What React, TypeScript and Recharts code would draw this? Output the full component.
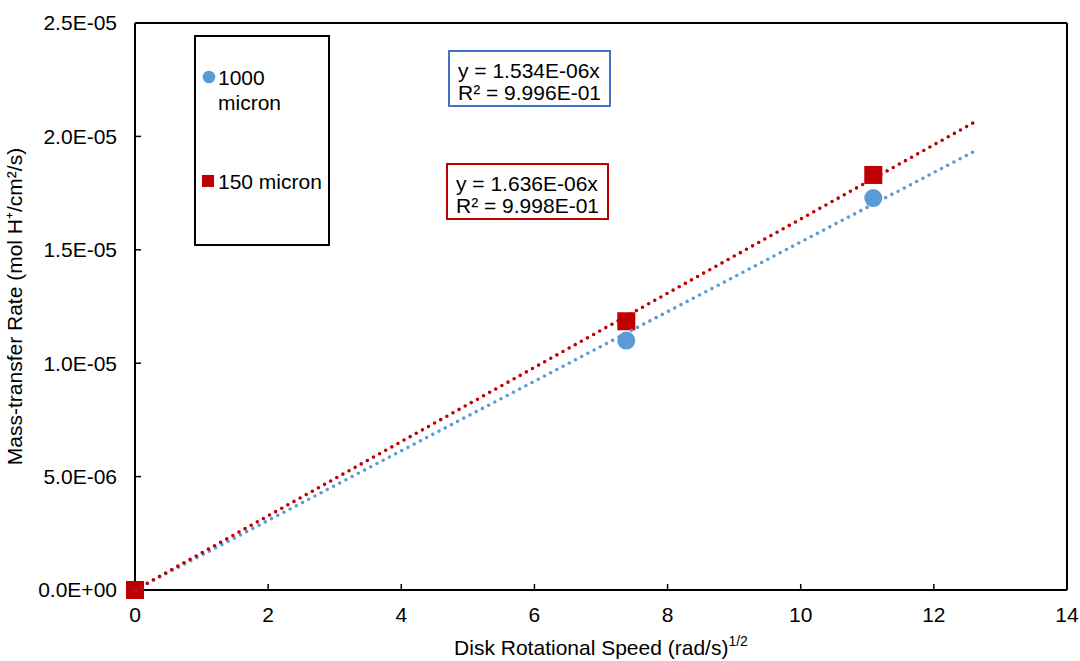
import React from "react";
import {
  ScatterChart,
  Scatter,
  XAxis,
  YAxis,
  ReferenceLine,
  Legend,
} from "recharts";

const FONT = "'Liberation Sans', Arial, sans-serif";
const BLUE = "#5B9BD5";
const RED = "#C00000";

// measured points
const speeds = [0, 7.38, 11.09];
const rate1000 = [0, 1.1e-5, 1.728e-5];
const rate150 = [0, 1.185e-5, 1.83e-5];

// linear trendline end points (through origin)
const trendX = [0, 12.6];
const trend1000 = [0, 1.933e-5];
const trend150 = [0, 2.061e-5];

const xTicks = [0, 2, 4, 6, 8, 10, 12, 14];
const yTicks = [0, 5e-6, 1e-5, 1.5e-5, 2e-5, 2.5e-5];

const seriesNames = ["1000 micron", "150 micron"];
const equations = [
  ["y = 1.534E-06x", "R² = 9.996E-01"],
  ["y = 1.636E-06x", "R² = 9.998E-01"],
];

const pts = (xs: number[], ys: number[]) => xs.map((x, i) => ({ x, y: ys[i] }));

const sci = (v: number) => {
  const [m, e] = v.toExponential(1).split("e");
  const n = Number(e);
  const sign = n < 0 ? "-" : "+";
  return `${m}E${sign}${String(Math.abs(n)).padStart(2, "0")}`;
};

const tickStyle = { fontSize: 21, fill: "#000", fontFamily: FONT };
const axisLine = { stroke: "#000", strokeWidth: 2 };

const dotted = (color: string) => ({
  stroke: color,
  strokeWidth: 3.6,
  strokeDasharray: "0 7",
  strokeLinecap: "round" as const,
});

function LegendBox() {
  return (
    <div
      style={{
        boxSizing: "border-box",
        width: 136,
        height: 211,
        border: "2px solid #000",
        background: "#fff",
        fontFamily: FONT,
        fontSize: 21,
        color: "#000",
        position: "relative",
      }}
    >
      <svg width={14} height={14} style={{ position: "absolute", left: 6, top: 33 }}>
        <circle cx={7} cy={7} r={6.3} fill={BLUE} />
      </svg>
      <div style={{ position: "absolute", left: 22, top: 28, lineHeight: "25px", width: 100 }}>
        {seriesNames[0].split(" ").map((w) => (
          <div key={w}>{w}</div>
        ))}
      </div>
      <svg width={12} height={12} style={{ position: "absolute", left: 6, top: 138 }}>
        <rect x={0} y={0} width={12} height={12} fill={RED} />
      </svg>
      <div style={{ position: "absolute", left: 22, top: 132, lineHeight: "25px", whiteSpace: "nowrap" }}>
        {seriesNames[1]}
      </div>
    </div>
  );
}

function EqBox({ lines, color, left, top }: { lines: string[]; color: string; left: number; top: number }) {
  return (
    <div
      style={{
        position: "absolute",
        left,
        top,
        boxSizing: "border-box",
        width: 163,
        height: 57,
        border: `2px solid ${color}`,
        background: "#fff",
        fontFamily: FONT,
        fontSize: 21,
        lineHeight: "21.5px",
        color: "#000",
        paddingLeft: 8,
        paddingTop: 8,
        whiteSpace: "nowrap",
      }}
    >
      {lines.map((l) => (
        <div key={l}>{l}</div>
      ))}
    </div>
  );
}

export default function App() {
  return (
    <div style={{ position: "absolute", left: 0, top: 0, width: 1080, height: 661, background: "#fff" }}>
      <ScatterChart width={1080} height={661} margin={{ top: 23, right: 13, left: 0, bottom: 0 }}>
        <XAxis
          type="number"
          dataKey="x"
          domain={[0, 14]}
          ticks={xTicks}
          height={71}
          tick={tickStyle}
          axisLine={axisLine}
          tickLine={{ stroke: "#000", strokeWidth: 1.5 }}
          tickSize={-6}
          tickMargin={23}
          label={(props: any) => {
            const vb = props.viewBox;
            return (
              <text
                x={vb.x + vb.width / 2}
                y={655}
                textAnchor="middle"
                fontFamily={FONT}
                fontSize={21}
                fill="#000"
              >
                Disk Rotational Speed (rad/s)
                <tspan fontSize={14} dy={-9}>1/2</tspan>
              </text>
            );
          }}
        />
        <YAxis
          type="number"
          dataKey="y"
          domain={[0, 2.5e-5]}
          ticks={yTicks}
          width={135}
          tick={tickStyle}
          tickFormatter={sci}
          axisLine={axisLine}
          tickLine={{ stroke: "#000", strokeWidth: 1.5 }}
          tickSize={-6}
          tickMargin={24}
          label={(props: any) => {
            const vb = props.viewBox;
            const cy = vb.y + vb.height / 2;
            return (
              <text
                x={22}
                y={cy}
                transform={`rotate(-90, 22, ${cy})`}
                textAnchor="middle"
                fontFamily={FONT}
                fontSize={21}
                fill="#000"
              >
                Mass-transfer Rate (mol H⁺/cm²/s)
              </text>
            );
          }}
        />
        <ReferenceLine y={2.5e-5} stroke="#000" strokeWidth={2} />
        <ReferenceLine x={14} stroke="#000" strokeWidth={2} />
        <Legend
          layout="horizontal"
          verticalAlign="middle"
          align="center"
          wrapperStyle={{ left: 194, top: 35, width: 136, height: 211 }}
          content={() => <LegendBox />}
        />
        <Scatter
          name={seriesNames[0]}
          data={pts(speeds, rate1000)}
          isAnimationActive={false}
          shape={(p: any) => <circle cx={p.cx} cy={p.cy} r={9} fill={BLUE} />}
        />
        <Scatter
          name={seriesNames[1]}
          data={pts(speeds, rate150)}
          isAnimationActive={false}
          shape={(p: any) => <rect x={p.cx - 9} y={p.cy - 9} width={18} height={18} fill={RED} />}
        />
        <Scatter
          data={pts(trendX, trend1000)}
          isAnimationActive={false}
          line={dotted(BLUE)}
          shape={() => <g />}
          legendType="none"
        />
        <Scatter
          data={pts(trendX, trend150)}
          isAnimationActive={false}
          line={dotted(RED)}
          shape={() => <g />}
          legendType="none"
        />
      </ScatterChart>
      <EqBox lines={equations[0]} color="#4472C4" left={448} top={50} />
      <EqBox lines={equations[1]} color={RED} left={446} top={163} />
    </div>
  );
}
